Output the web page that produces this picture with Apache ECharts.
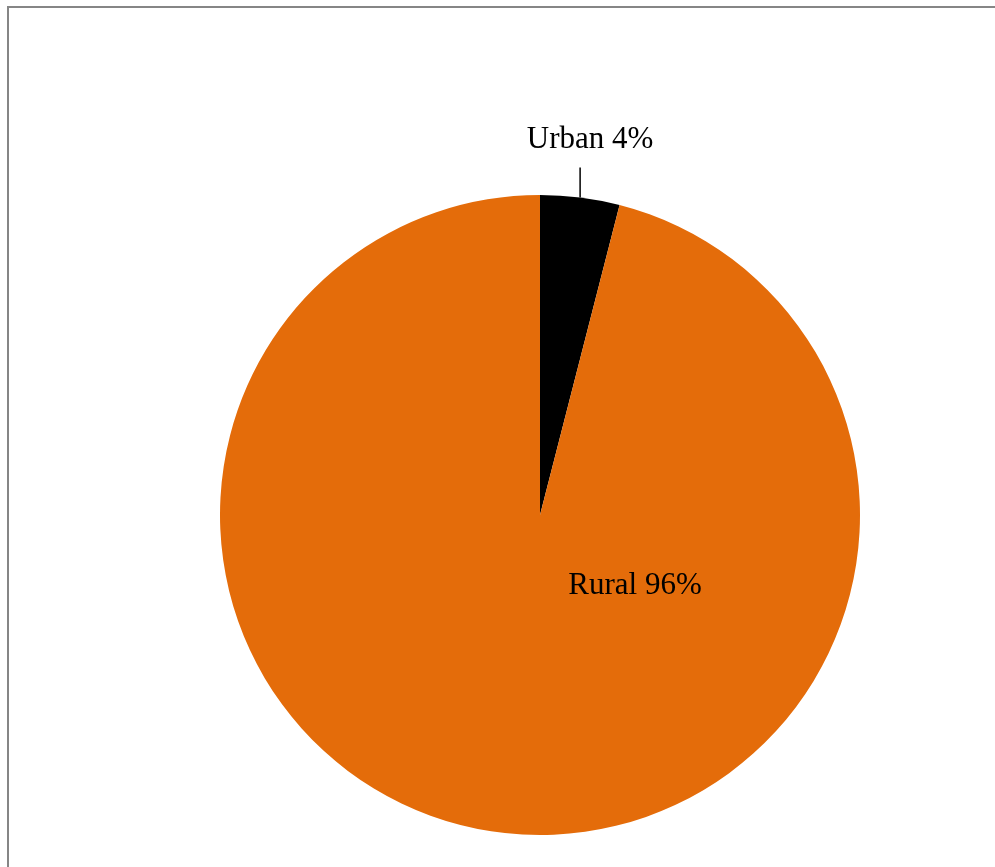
<!DOCTYPE html>
<html>
<head>
<meta charset="utf-8">
<script src="https://cdn.jsdelivr.net/npm/echarts@6/dist/echarts.min.js"></script>
<style>
  html, body { margin: 0; padding: 0; background: #fff; overflow: hidden; }
  #frame { position: absolute; left: 7px; top: 6px; width: 1000px; height: 900px;
           border-left: 2px solid #868686; border-top: 2px solid #868686; }
  #chart { position: absolute; left: 0; top: 0; width: 995px; height: 867px; }
</style>
</head>
<body>
<div id="frame"></div>
<div id="chart"></div>
<script>
// Population share by area type
const categories = ['Urban', 'Rural'];
const shares = [4, 96];
const sliceColors = ['#000000', '#E46C0A'];

const chart = echarts.init(document.getElementById('chart'), null, { renderer: 'canvas' });

const pieData = categories.map((name, i) => ({
  name: name,
  value: shares[i],
  itemStyle: { color: sliceColors[i] }
}));

chart.setOption({
  animation: false,
  backgroundColor: 'transparent',
  series: [{
    type: 'pie',
    center: [540, 515],
    radius: 320,
    startAngle: 90,
    clockwise: true,
    avoidLabelOverlap: false,
    itemStyle: { borderWidth: 0 },
    label: {
      show: true,
      position: 'outside',
      formatter: '{b} {c}%',
      fontFamily: 'Liberation Serif, Times New Roman, serif',
      fontSize: 31,
      color: '#000'
    },
    labelLine: {
      show: true,
      length: 30,
      length2: 0,
      smooth: false,
      lineStyle: { color: '#000', width: 1.5 }
    },
    labelLayout: function (params) {
      if (params.dataIndex === 0) {
        // Vertical leader from the slice edge, text centred above it
        const p0 = params.labelLinePoints[0];
        const top = [p0[0], p0[1] - 30];
        return {
          x: p0[0] + 10,
          y: top[1] - 28,
          align: 'center',
          verticalAlign: 'middle',
          labelLinePoints: [p0, top, top]
        };
      }
      // Large slice: label placed inside, below-right of the centre
      return {
        x: 635,
        y: 586,
        align: 'center',
        verticalAlign: 'middle',
        labelLinePoints: [[0, 0], [0, 0], [0, 0]]
      };
    },
    data: pieData
  }]
});
</script>
</body>
</html>
